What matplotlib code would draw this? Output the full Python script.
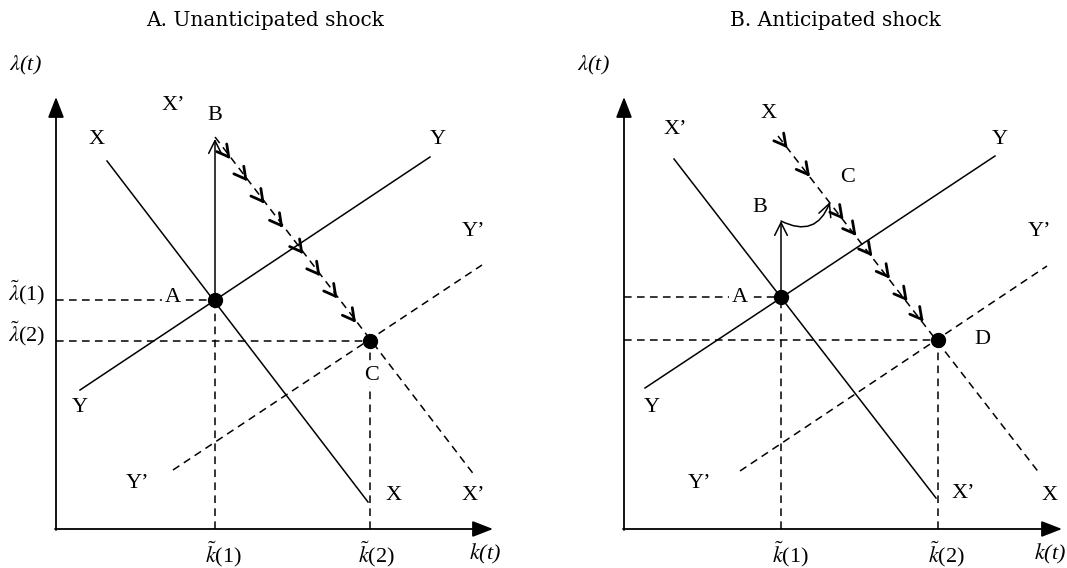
import numpy as np
import matplotlib.pyplot as plt

plt.rcParams['font.family'] = 'Liberation Serif'
plt.rcParams['mathtext.fontset'] = 'stix'

# panel A: unanticipated shock (local coords, origin at axis corner, y up)
a_titles = 'A. Unanticipated shock'
a_axis_len = (437, 432)
a_ptA = (159, 229)
a_ptB = (159, 390)
a_ptC = (314, 188)
a_X = [(51, 368), (312, 27)]
a_Y = [(24, 139), (374, 372)]
a_Yp = [(117, 59), (426, 264)]
a_Xp = [(159, 392), (419, 53)]
a_chev_t = [0.10, 0.21, 0.32, 0.44, 0.57, 0.68, 0.79, 0.91]
a_labels = [('X’', 117, 424), ('B', 159, 414), ('X', 41, 389), ('Y', 382, 389),
            ('Y’', 417, 297), ('C', 316, 154), ('Y', 24, 121), ('Y’', 81, 46),
            ('X', 338, 34), ('X’', 417, 34)]
a_ylabels = [r'$\tilde{\lambda}$(1)', r'$\tilde{\lambda}$(2)']

# panel B: anticipated shock
b_titles = 'B. Anticipated shock'
b_axis_len = (438, 432)
b_ptA = (157, 232)
b_ptB = (157, 308)
b_ptC = (206, 327)
b_ptD = (314, 189)
b_Xp = [(50, 370), (312, 31)]
b_Y = [(21, 141), (371, 373)]
b_Yp = [(116, 58), (423, 263)]
b_X = [(154, 393), (416, 55)]
b_chev_t = [0.06, 0.20, 0.41, 0.49, 0.59, 0.70, 0.81, 0.91]
b_labels = [('X’', 51, 399), ('X', 145, 416), ('Y', 376, 389), ('C', 224, 352),
            ('B', 136, 322), ('Y’', 416, 297), ('D', 358, 189), ('Y', 28, 121),
            ('Y’', 76, 46), ('X’', 339, 36), ('X', 426, 34)]

FS = 16


def draw_axes(ax, xlen, ylen):
    ax.annotate('', xy=(0, ylen), xytext=(0, -1),
                arrowprops=dict(arrowstyle='-|>,head_length=0.9,head_width=0.35',
                                lw=1.3, color='black', shrinkA=0, shrinkB=0,
                                mutation_scale=14))
    ax.annotate('', xy=(xlen, 0), xytext=(-1, 0),
                arrowprops=dict(arrowstyle='-|>,head_length=0.9,head_width=0.35',
                                lw=1.3, color='black', shrinkA=0, shrinkB=0,
                                mutation_scale=14))
    ax.text(-31, 464, r'$\lambda$(t)', fontsize=FS, style='italic',
            ha='center', va='center')


def line(ax, seg, ls='-'):
    xs, ys = zip(*seg)
    if ls == '-':
        ax.plot(xs, ys, color='black', lw=1.1)
    else:
        ax.plot(xs, ys, color='black', lw=1.1, dashes=(5, 3.5))


def chevrons(ax, p0, p1, ts):
    p0 = np.array(p0, float)
    p1 = np.array(p1, float)
    u = (p1 - p0) / np.linalg.norm(p1 - p0)
    for t in ts:
        p = p0 + t * (p1 - p0)
        ax.annotate('', xy=p, xytext=p - u * 4,
                    arrowprops=dict(arrowstyle='->,head_length=0.55,head_width=0.3',
                                    lw=2.0, color='black', shrinkA=0, shrinkB=0,
                                    mutation_scale=15))


def up_arrow(ax, p0, p1):
    ax.annotate('', xy=p1, xytext=p0,
                arrowprops=dict(arrowstyle='->,head_length=0.7,head_width=0.35',
                                lw=1.1, color='black', shrinkA=0, shrinkB=0,
                                mutation_scale=13))


def labels(ax, items, white=()):
    for s, x, y in items:
        kw = {}
        if s in white:
            kw['bbox'] = dict(fc='white', ec='none', pad=1)
        ax.text(x, y, s, fontsize=FS, ha='center', va='center', zorder=5, **kw)


fig = plt.figure(figsize=(10.67, 5.68), dpi=100)
ax1 = fig.add_axes([0, 0, 533 / 1067, 1])
ax2 = fig.add_axes([533 / 1067, 0, 534 / 1067, 1])
ax1.set_xlim(-56, 477)
ax2.set_xlim(-91, 443)
for ax in (ax1, ax2):
    ax.set_ylim(-39, 529)
    ax.axis('off')

# ---- panel A
ax = ax1
draw_axes(ax, *a_axis_len)
line(ax, a_X)
line(ax, a_Y)
line(ax, a_Yp, '--')
line(ax, a_Xp, '--')
line(ax, [(0, a_ptA[1]), a_ptA], '--')
line(ax, [(0, a_ptC[1]), a_ptC], '--')
line(ax, [(a_ptA[0], 0), a_ptA], '--')
line(ax, [(a_ptC[0], 0), a_ptC], '--')
up_arrow(ax, a_ptA, a_ptB)
chevrons(ax, a_ptB, a_ptC, a_chev_t)
ax.plot([a_ptA[0], a_ptC[0]], [a_ptA[1], a_ptC[1]], 'o', color='black', ms=10, zorder=6)
labels(ax, a_labels, white=('C',))
ax.text(117, 232, 'A', fontsize=FS, ha='center', va='center',
        bbox=dict(fc='white', ec='none', pad=2), zorder=5)
ax.text(-11, 236, a_ylabels[0], fontsize=FS, ha='right', va='center')
ax.text(-11, 195, a_ylabels[1], fontsize=FS, ha='right', va='center')
ax.text(a_ptA[0] + 8, -25, r'$\tilde{k}$(1)', fontsize=FS, ha='center', va='center')
ax.text(a_ptC[0] + 6, -25, r'$\tilde{k}$(2)', fontsize=FS, ha='center', va='center')
ax.text(429, -25, r'$k$(t)', fontsize=FS, style='italic', ha='center', va='center')
ax.text(209, 509, a_titles, fontsize=14.5, ha='center', va='center', family='DejaVu Serif')

# ---- panel B
ax = ax2
draw_axes(ax, *b_axis_len)
line(ax, b_Xp)
line(ax, b_Y)
line(ax, b_Yp, '--')
line(ax, b_X, '--')
line(ax, [(0, b_ptA[1]), b_ptA], '--')
line(ax, [(0, b_ptD[1]), b_ptD], '--')
line(ax, [(b_ptA[0], 0), b_ptA], '--')
line(ax, [(b_ptD[0], 0), b_ptD], '--')
up_arrow(ax, b_ptA, b_ptB)
ax.annotate('', xy=b_ptC, xytext=b_ptB,
            arrowprops=dict(arrowstyle='->,head_length=0.7,head_width=0.35',
                            lw=1.1, color='black', shrinkA=0, shrinkB=0,
                            mutation_scale=13, connectionstyle='arc3,rad=0.55'))
chevrons(ax, b_X[0], b_ptD, b_chev_t)
ax.plot([b_ptA[0], b_ptD[0]], [b_ptA[1], b_ptD[1]], 'o', color='black', ms=10, zorder=6)
labels(ax, b_labels)
ax.text(116, 232, 'A', fontsize=FS, ha='center', va='center',
        bbox=dict(fc='white', ec='none', pad=2), zorder=5)
ax.text(b_ptA[0] + 9, -25, r'$\tilde{k}$(1)', fontsize=FS, ha='center', va='center')
ax.text(b_ptD[0] + 8, -25, r'$\tilde{k}$(2)', fontsize=FS, ha='center', va='center')
ax.text(426, -25, r'$k$(t)', fontsize=FS, style='italic', ha='center', va='center')
ax.text(211, 509, b_titles, fontsize=14.5, ha='center', va='center', family='DejaVu Serif')

fig.savefig('out.png', dpi=100)
